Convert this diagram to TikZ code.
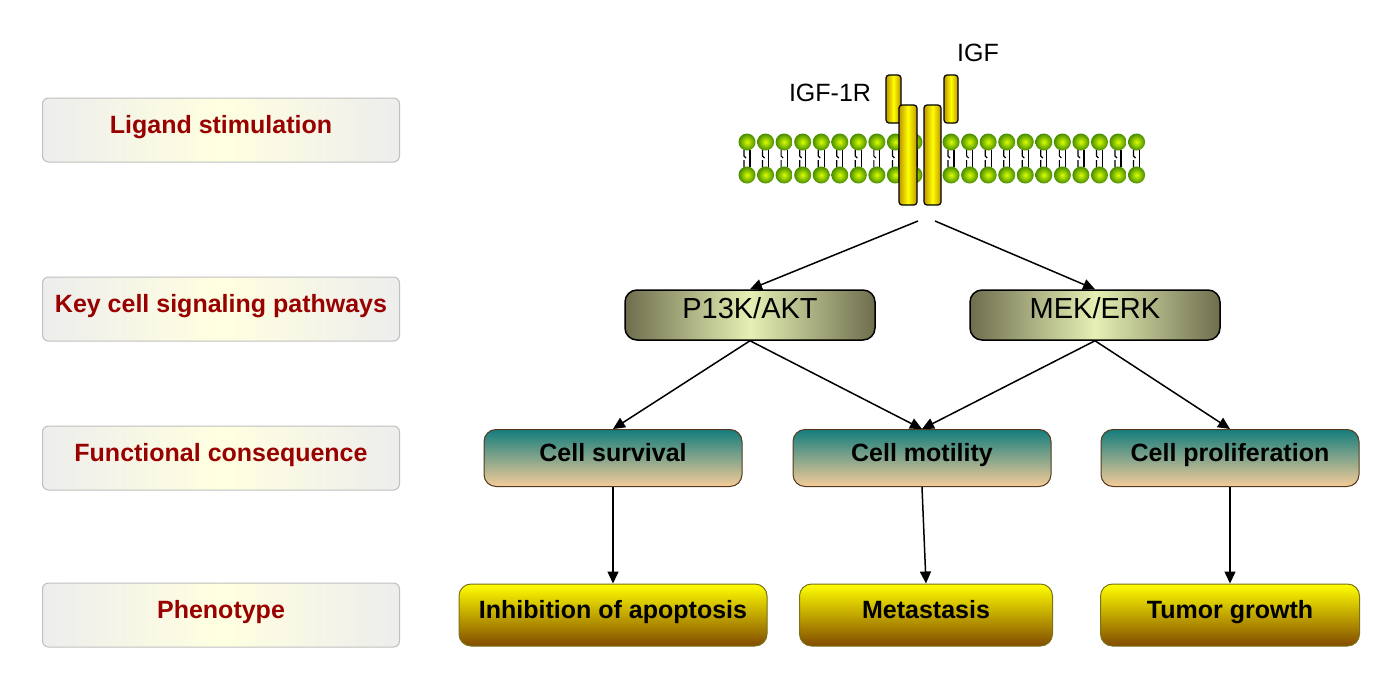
\documentclass[tikz,border=0pt]{standalone}
\usepackage{fontspec}
\setmainfont{Liberation Sans}
\usetikzlibrary{arrows.meta}
\definecolor{dred}{HTML}{990000}
\definecolor{pedge}{HTML}{6E6E4E}
\definecolor{pmid}{HTML}{E6F0B4}
\begin{document}
\begin{tikzpicture}[x=1pt,y=-1pt,
 every node/.style={text height=0.72em,text depth=0pt},
 lbl/.style={draw=black!25,line width=1pt,rounded corners=6pt,minimum width=357pt,minimum height=64pt,left color=black!7,right color=black!7,middle color=yellow!12,text=dred,font=\fontsize{25}{30}\selectfont\bfseries},
 path/.style={draw=black,line width=1.5pt,rounded corners=12pt,minimum width=250pt,minimum height=50pt,left color=pedge,right color=pedge,middle color=pmid,font=\fontsize{29}{34}\selectfont},
 func/.style={draw=black!55!brown,line width=1pt,rounded corners=12pt,minimum width=258pt,minimum height=57pt,top color={rgb,255:red,20;green,125;blue,125},bottom color={rgb,255:red,245;green,204;blue,153},font=\fontsize{25}{30}\selectfont\bfseries},
 phen/.style={draw=olive!80!black,line width=1pt,rounded corners=12pt,minimum width=308pt,minimum height=62pt,top color=yellow,bottom color={rgb,255:red,130;green,75;blue,0},font=\fontsize{25}{30}\selectfont\bfseries},
 arr/.style={-{Triangle[length=12pt,width=11pt]},line width=1.5pt},
 rod/.style={draw=black,line width=1.2pt,rounded corners=3pt,left color={rgb,255:red,190;green,150;blue,0},right color={rgb,255:red,190;green,150;blue,0},middle color=yellow},
 ball/.style={inner color=yellow!85!green,outer color={rgb,255:red,70;green,140;blue,0},draw=none}]
\useasboundingbox (0,0) rectangle (1400,697);
% left labels
\node[lbl] (l1) at (221,130) {Ligand stimulation};
\node[lbl] (l2) at (221,309) {Key cell signaling pathways};
\node[lbl] (l3) at (221,458) {Functional consequence};
\node[lbl] (l4) at (221,615) {Phenotype};
% membrane
\foreach \i in {0,...,21}{
 \pgfmathsetmacro\xx{747+18.55*\i}
 \draw[line width=1.2pt] (\xx-3,150)--(\xx-3,156)--(\xx-1,158) (\xx-3,160)--(\xx-3,167);
 \draw[line width=1.2pt] (\xx+3,150)--(\xx+3,167);
 \shade[ball] (\xx,142) circle (8.5);
 \shade[ball] (\xx,175) circle (8.5);
}
\path[rod] (886,75) rectangle (901,123);
\path[rod] (944,75) rectangle (958,123);
\path[rod] (899,105) rectangle (917,205);
\path[rod] (924,105) rectangle (941,205);
\node[font=\fontsize{25}{30}\selectfont] (igfr) at (830,98) {IGF-1R};
\node[font=\fontsize{25}{30}\selectfont] (igf) at (978,58) {IGF};
\coordinate (r1) at (918,221);
\coordinate (r2) at (935,221);
% pathways
\node[path] (pi) at (750,315) {P13K/AKT};
\node[path] (me) at (1095,315) {MEK/ERK};
\node[func] (cs) at (613,458) {Cell survival};
\node[func] (cm) at (922,458) {Cell motility};
\node[func] (cp) at (1230,458) {Cell proliferation};
\node[phen] (ia) at (613,615) {Inhibition of apoptosis};
\node[phen,minimum width=253pt] (mt) at (926,615) {Metastasis};
\node[phen,minimum width=259pt] (tg) at (1230,615) {Tumor growth};
\draw[arr] (r1) -- (pi.north);
\draw[arr] (r2) -- (me.north);
\draw[arr] (pi.south) -- (cs.north);
\draw[arr] (pi.south) -- (cm.north);
\draw[arr] (me.south) -- (cm.north);
\draw[arr] (me.south) -- (cp.north);
\draw[arr] (cs.south) -- (ia.north-|cs.south);
\draw[arr] (cm.south) -- (mt.north);
\draw[arr] (cp.south) -- (tg.north);
\end{tikzpicture}
\end{document}
